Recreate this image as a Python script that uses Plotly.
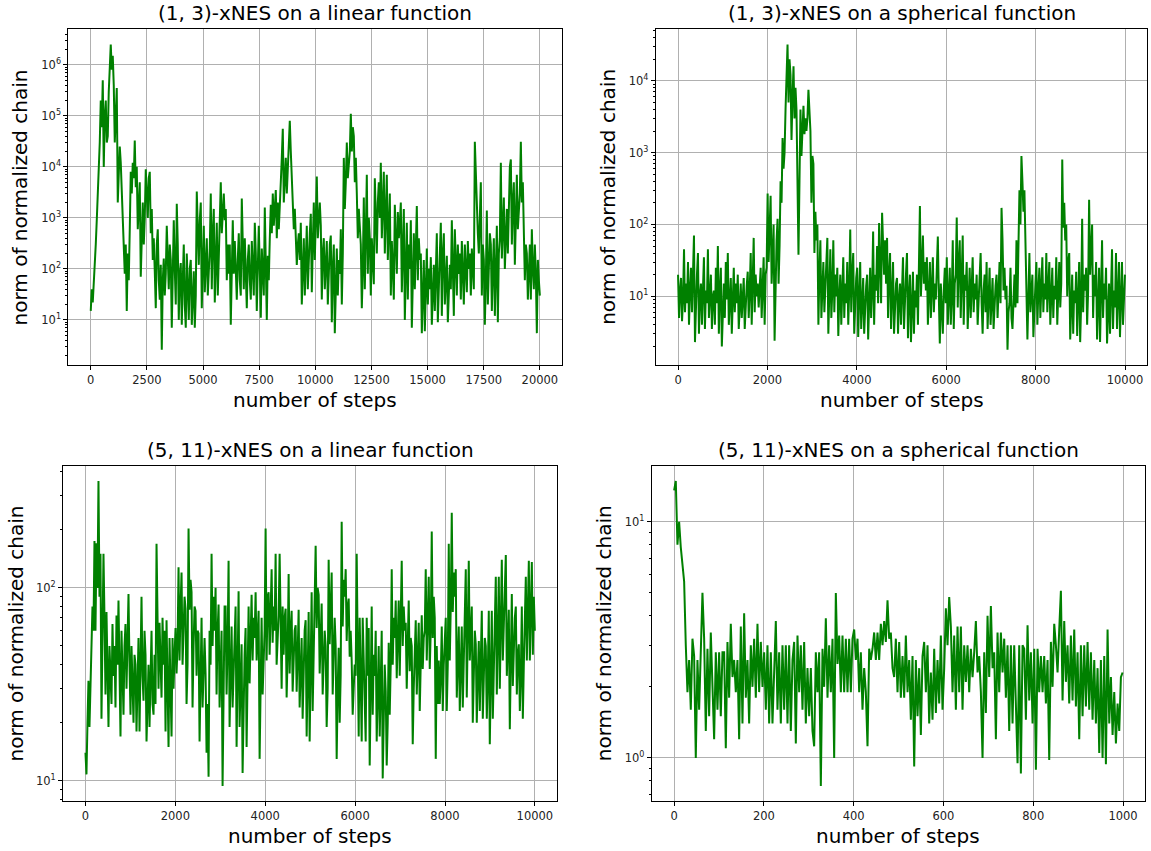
import numpy as np
import plotly.graph_objects as go

W, H = 1151, 851
FONT = "DejaVu Sans"

# ---- chain norms, sampled evenly over each run ----
steps_lin13 = 20000
norm_lin13 = [
    15, 40, 22, 70, 150, 300, 900, 2500, 6000, 3e4,
    2e5, 6e4, 5e5, 1e4, 1e5, 2e5, 3e4, 4e4, 3e5, 1.2e6,
    2.5e6, 8e5, 1.5e6, 4e5, 3e4, 1e5, 3.5e5, 2e3, 8e3, 2.5e4,
    1.2e4, 3e3, 1.5e3, 200, 80, 300, 15, 200, 60, 600,
    8e3, 3e3, 1.2e4, 6e3, 3.3e4, 4e3, 1e4, 600, 1.5e3, 5e3,
    70, 800, 2e3, 300, 1e3, 9e3, 2e3, 1e3, 6e3, 8e3,
    500, 1.5e3, 150, 400, 90, 17, 300, 600, 60, 25,
    120, 2.6, 60, 160, 30, 80, 700, 100, 40, 300,
    150, 7, 60, 900, 100, 20, 1.9e3, 300, 10, 80,
    130, 8, 60, 300, 20, 7, 200, 50, 10, 100,
    150, 8, 50, 90, 7, 30, 3.3e3, 600, 120, 900,
    2e3, 17, 300, 700, 35, 150, 400, 30, 100, 250,
    3e3, 40, 500, 1.5e3, 22, 200, 800, 30, 150, 400,
    5e3, 500, 2e3, 3e3, 900, 1.5e3, 60, 300, 80, 300,
    8, 200, 900, 80, 350, 100, 25, 150, 500, 60,
    30, 2.4e3, 300, 40, 400, 100, 17, 150, 300, 60,
    25, 350, 80, 30, 800, 200, 15, 300, 700, 100,
    11, 250, 60, 30, 1.6e3, 200, 10, 180, 60, 400,
    1.8e3, 500, 3e3, 700, 1.5e3, 3.5e3, 400, 2e3, 600, 3e3,
    5e3, 1.5e4, 5.6e4, 2e3, 8e3, 1.5e4, 3e3, 1e4, 2.5e4, 8e4,
    2e4, 5e3, 2.5e3, 600, 1.5e3, 400, 120, 300, 500, 150,
    800, 20, 200, 400, 30, 100, 700, 40, 200, 500,
    1.2e3, 35, 300, 2e3, 150, 800, 6.5e3, 400, 1e3, 2e3,
    700, 25, 200, 400, 40, 150, 350, 20, 100, 300,
    450, 9, 100, 300, 5.5, 60, 250, 30, 150, 80,
    600, 20, 200, 1.5e4, 1.5e3, 5e3, 3e4, 6e3, 1.5e4, 2e4,
    1.1e5, 2e4, 6e4, 4e4, 5e3, 1.5e4, 3e3, 400, 1.5e3, 600,
    300, 17, 100, 2.5e3, 40, 500, 7e3, 80, 1e3, 400,
    30, 400, 100, 50, 6e3, 500, 200, 2e3, 5e3, 1e3,
    1.2e4, 400, 3e3, 8e3, 200, 2e3, 7e3, 150, 1e3, 3e3,
    30, 350, 100, 25, 1.8e3, 300, 80, 1.3e3, 400, 800,
    2e3, 35, 500, 1.5e3, 10, 200, 800, 25, 300, 100,
    900, 7, 200, 500, 40, 300, 1.7e3, 60, 400, 150,
    200, 5.5, 60, 150, 6, 80, 250, 20, 100, 40,
    170, 8, 60, 120, 15, 80, 500, 9, 100, 200,
    800, 12, 200, 500, 20, 100, 180, 9, 60, 120,
    40, 900, 100, 12, 600, 150, 30, 300, 80, 200,
    25, 350, 60, 20, 300, 80, 35, 350, 100, 200,
    30, 250, 80, 40, 3.1e4, 5e3, 2e3, 500, 200, 1e3,
    5e3, 30, 300, 150, 8, 60, 1.4e3, 20, 200, 500,
    300, 15, 100, 400, 12, 150, 700, 9, 200, 400,
    1.2e4, 160, 1e3, 2.5e3, 100, 800, 1.5e3, 200, 1e3, 1e4,
    1.4e4, 300, 2e3, 5e3, 120, 1e3, 7e3, 600, 2e3, 3e3,
    3.1e4, 2e3, 5e3, 700, 60, 300, 200, 25, 100, 300,
    25, 600, 100, 40, 300, 80, 5.5, 150, 60, 30,
]

steps_sph13 = 10000
norm_sph13 = [
    20, 5, 12, 18, 4.5, 9, 45, 6, 15, 8,
    30, 4, 12, 25, 6, 15, 70, 2.3, 10, 20,
    40, 3, 10, 15, 4, 20, 35, 3.5, 12, 8,
    45, 5, 15, 20, 3.5, 10, 12, 4, 25, 8,
    50, 3, 12, 25, 2, 10, 15, 5, 30, 9,
    40, 4, 12, 18, 3, 10, 25, 6, 15, 8,
    20, 3.5, 10, 15, 5, 12, 18, 3.5, 9, 14,
    22, 5, 12, 40, 4, 15, 65, 6, 20, 10,
    15, 7, 12, 25, 5, 14, 35, 4, 20, 25,
    270, 30, 100, 250, 15, 60, 100, 2.4, 30, 60,
    120, 15, 50, 400, 200, 1.6e3, 600, 1e3, 4e3, 1.2e4,
    3.2e4, 5e3, 2e4, 1.2e4, 1.5e3, 6e3, 1.6e4, 3e3, 8e3, 4e3,
    600, 38, 400, 4e3, 900, 2e3, 4.5e3, 1.8e3, 3e3, 2e3,
    3e3, 7.5e3, 4e3, 2e3, 200, 900, 700, 40, 150, 60,
    100, 4, 20, 60, 5, 15, 30, 6, 12, 20,
    65, 3, 15, 45, 5, 12, 60, 6, 20, 10,
    25, 2.8, 10, 20, 4, 12, 35, 5, 15, 8,
    30, 4, 12, 85, 6, 20, 40, 3, 12, 18,
    25, 2.7, 10, 30, 3.5, 12, 18, 3, 8, 14,
    20, 2.5, 8, 25, 5, 12, 80, 4, 20, 12,
    50, 8, 105, 20, 8, 145, 30, 20, 60, 15,
    65, 5, 20, 40, 3.5, 12, 30, 3, 10, 15,
    18, 3, 9, 15, 4, 10, 35, 3.5, 12, 20,
    40, 2.6, 10, 20, 2.3, 8, 22, 3, 12, 7,
    20, 4, 30, 180, 10, 40, 70, 15, 30, 12,
    35, 4, 12, 30, 5, 14, 35, 6, 15, 9,
    25, 68, 10, 2.2, 15, 6, 3, 12, 25, 8,
    35, 4, 12, 25, 4, 10, 60, 3.5, 15, 20,
    125, 7, 30, 60, 5, 15, 70, 4, 20, 12,
    30, 3.5, 10, 25, 5, 12, 35, 6, 15, 9,
    20, 4, 10, 25, 40, 8, 3, 12, 20, 6,
    30, 3.5, 10, 25, 4, 12, 18, 3.5, 8, 14,
    20, 5, 12, 30, 8, 170, 60, 12, 25, 9,
    14, 1.8, 6, 8, 25, 5, 3.5, 12, 20, 7,
    60, 8, 30, 300, 100, 900, 400, 150, 300, 60,
    30, 2.5, 10, 40, 6, 15, 20, 2.7, 8, 14,
    30, 4, 12, 25, 5, 12, 35, 6, 15, 9,
    40, 6, 15, 30, 4, 12, 25, 5, 14, 9,
    35, 4, 12, 30, 7, 15, 800, 90, 200, 60,
    100, 10, 30, 40, 2.5, 10, 20, 3, 12, 8,
    22, 2.8, 10, 30, 2.3, 8, 120, 6, 20, 12,
    25, 4, 12, 220, 20, 50, 100, 5, 20, 10,
    30, 2.5, 10, 25, 2.3, 8, 60, 5, 15, 9,
    25, 2.2, 8, 15, 3, 10, 45, 3.5, 12, 7,
    40, 3.5, 12, 30, 2.7, 10, 30, 4, 12, 20,
]

steps_lin511 = 10000
norm_lin511 = [
    14, 10.8, 20, 33, 19, 30, 55, 80, 60, 175,
    60, 170, 100, 358, 90, 150, 21, 50, 150, 70,
    28, 75, 40, 19, 50, 30, 25, 65, 35, 50,
    24, 72, 40, 86, 30, 17, 60, 35, 22, 50,
    65, 30, 50, 93, 40, 22, 50, 30, 20, 45,
    40, 18, 30, 55, 18, 40, 90, 35, 26, 60,
    45, 16, 30, 40, 19, 35, 60, 25, 22, 45,
    25, 169, 60, 30, 66, 35, 27, 70, 40, 60,
    18, 68, 30, 15, 55, 25, 17, 55, 30, 45,
    62, 36, 50, 128, 42, 80, 120, 40, 60, 90,
    78, 25, 40, 203, 77, 110, 95, 24, 50, 80,
    76, 35, 60, 58, 16, 35, 70, 24, 40, 55,
    36, 14, 25, 10.5, 60, 40, 150, 50, 90, 60,
    100, 28, 60, 82, 24, 45, 60, 9.4, 30, 80,
    80, 28, 50, 138, 19, 40, 63, 24, 40, 55,
    80, 15, 35, 96, 19, 40, 51, 11, 25, 45,
    62, 15, 35, 80, 32, 60, 92, 42, 70, 55,
    95, 42, 65, 76, 13, 30, 70, 28, 45, 60,
    203, 42, 90, 95, 45, 70, 125, 52, 80, 60,
    150, 40, 60, 72, 150, 60, 30, 80, 45, 70,
    78, 27, 45, 118, 36, 60, 76, 29, 50, 60,
    64, 29, 45, 77, 24, 40, 55, 21, 35, 60,
    68, 17, 35, 75, 16, 40, 95, 23, 45, 70,
    165, 62, 100, 92, 36, 55, 83, 28, 45, 60,
    50, 19, 30, 140, 51, 80, 120, 28, 50, 70,
    50, 13, 30, 49, 20, 35, 220, 63, 110, 90,
    125, 53, 80, 88, 44, 60, 42, 22, 30, 40,
    35, 150, 50, 17, 70, 30, 16, 70, 40, 25,
    16, 70, 35, 62, 12, 30, 80, 22, 45, 35,
    60, 16, 35, 50, 17, 35, 60, 10.3, 25, 40,
    29, 12, 20, 52, 22, 40, 125, 40, 70, 55,
    86, 34, 55, 86, 35, 60, 138, 50, 80, 60,
    66, 30, 45, 86, 37, 55, 50, 15.5, 30, 50,
    68, 28, 45, 66, 23, 40, 72, 38, 55, 60,
    125, 42, 70, 114, 38, 60, 196, 55, 90, 70,
    13, 50, 25, 42, 25, 35, 63, 23, 40, 55,
    70, 23, 40, 169, 42, 80, 245, 75, 120, 90,
    125, 27, 50, 63, 23, 40, 63, 24, 40, 55,
    125, 27, 60, 138, 42, 70, 80, 20, 40, 60,
    51, 20, 35, 53, 23, 40, 76, 21, 40, 55,
    50, 21, 35, 76, 15.5, 35, 76, 21, 40, 60,
    114, 28, 55, 114, 30, 60, 140, 42, 70, 90,
    148, 35, 60, 77, 18.5, 40, 93, 31, 50, 70,
    80, 28, 45, 51, 23, 35, 80, 21, 40, 60,
    114, 42, 70, 138, 42, 80, 136, 45, 90, 60,
]

steps_sph511 = 1000
norm_sph511 = [
    13.6, 14.9, 8.0, 10.0, 7.8, 6.4,
    5.6, 3.0, 1.9, 2.6, 1.6, 3.2,
    2.7, 1.0, 2.6, 1.6, 3.3, 5.0,
    3.2, 1.3, 2.9, 1.5, 3.4, 2.2,
    1.2, 2.8, 1.6, 2.8, 1.5, 2.8,
    2.8, 1.1, 3.1, 1.8, 3.7, 2.2,
    2.6, 1.9, 2.6, 1.2, 3.6, 1.4,
    4.1, 1.8, 2.6, 1.4, 3.0, 2.0,
    3.2, 1.8, 3.7, 1.9, 3.1, 2.0,
    2.8, 1.6, 3.0, 1.4, 2.8, 1.4,
    2.2, 3.8, 1.6, 2.8, 1.4, 3.0,
    1.6, 3.0, 1.4, 3.0, 1.3, 2.6,
    3.1, 1.15, 3.3, 1.9, 3.0, 1.6,
    3.1, 1.4, 2.4, 1.5, 2.4, 1.3,
    1.12, 2.8, 1.9, 2.8, 0.76, 2.9,
    2.0, 3.9, 1.8, 3.0, 1.9, 3.2,
    1.0, 5.0, 2.5, 3.3, 1.9, 3.3,
    1.9, 3.2, 1.9, 3.2, 1.9, 3.2,
    3.5, 2.6, 3.2, 1.9, 2.8, 1.6,
    2.4, 1.9, 1.12, 2.9, 2.6, 2.9,
    3.4, 2.6, 3.4, 2.6, 3.7, 3.0,
    3.8, 3.1, 4.65, 3.2, 3.4, 2.4,
    2.2, 3.2, 1.9, 3.1, 1.8, 2.7,
    1.8, 3.3, 1.9, 2.6, 1.45, 2.7,
    0.92, 2.6, 1.5, 2.4, 1.25, 2.7,
    3.1, 1.9, 3.0, 1.4, 2.3, 1.45,
    2.9, 1.55, 2.6, 1.7, 3.3, 1.6,
    2.4, 4.3, 3.0, 4.8, 3.6, 1.9,
    3.3, 1.6, 3.6, 1.9, 3.6, 1.6,
    3.0, 2.1, 3.0, 1.9, 2.9, 2.2,
    2.8, 3.8, 2.3, 2.7, 1.9, 1.0,
    2.8, 1.55, 4.0, 2.2, 4.4, 2.4,
    2.8, 1.2, 3.4, 1.9, 3.4, 2.3,
    3.2, 1.8, 3.0, 1.3, 3.0, 1.4,
    3.0, 1.8, 0.95, 3.0, 0.86, 3.0,
    2.9, 1.45, 3.65, 1.75, 2.8, 1.4,
    2.9, 0.89, 2.9, 1.9, 2.7, 1.9,
    2.7, 1.7, 2.6, 0.98, 3.1, 2.0,
    3.7, 3.0, 2.3, 3.5, 5.1, 1.75,
    3.8, 2.1, 3.0, 1.7, 3.3, 1.75,
    3.5, 1.65, 2.8, 1.2, 3.0, 1.5,
    3.0, 1.65, 3.1, 1.6, 2.8, 1.45,
    2.6, 1.4, 2.4, 1.05, 2.6, 1.0,
    2.7, 0.94, 3.5, 1.4, 2.2, 1.25,
    1.9, 1.15, 1.7, 1.3, 2.2, 2.3,
]

titles = [
    "(1, 3)-xNES on a linear function",
    "(1, 3)-xNES on a spherical function",
    "(5, 11)-xNES on a linear function",
    "(5, 11)-xNES on a spherical function",
]
x_label = "number of steps"
y_label = "norm of normalized chain"

# plot frames in pixels: left, top, right, bottom
panels = [
    dict(title=titles[0], n=steps_lin13, v=norm_lin13, dtick=2500, box=(68.3, 29.3, 562.3, 365.0)),
    dict(title=titles[1], n=steps_sph13, v=norm_sph13, dtick=2000, box=(655.7, 29.3, 1147.3, 365.0)),
    dict(title=titles[2], n=steps_lin511, v=norm_lin511, dtick=2000, box=(63.0, 465.7, 557.3, 801.3)),
    dict(title=titles[3], n=steps_sph511, v=norm_sph511, dtick=200, box=(651.7, 465.7, 1145.0, 801.3)),
]

fig = go.Figure()
annotations = []
tick_font = dict(family=FONT, size=11.5, color="#222222")
label_font = dict(family=FONT, size=20, color="#000000")

for i, p in enumerate(panels, start=1):
    vals = np.asarray(p["v"], dtype=float)
    x = np.linspace(0, p["n"] - 1, len(vals))
    xa = "x" if i == 1 else f"x{i}"
    ya = "y" if i == 1 else f"y{i}"
    fig.add_trace(go.Scatter(
        x=x, y=vals, mode="lines",
        line=dict(color="#008000", width=2),
        xaxis=xa, yaxis=ya, showlegend=False, hoverinfo="skip",
    ))

    l, t, r, b = p["box"]
    xd = [l / W, r / W]
    yd = [(H - b) / H, (H - t) / H]

    span = x[-1] - x[0]
    xr = [x[0] - 0.05 * span, x[-1] + 0.05 * span]
    lv = np.log10(vals)
    ls = lv.max() - lv.min()
    yr = [lv.min() - 0.05 * ls, lv.max() + 0.05 * ls]

    # decade ticks labelled as powers of ten
    decades = list(range(int(np.ceil(yr[0])), int(np.floor(yr[1])) + 1))
    tvals = [10.0 ** d for d in decades]
    ttext = [f"10<sup>{d}</sup>" for d in decades]

    common = dict(
        ticks="outside", ticklen=4, tickwidth=1, tickcolor="black",
        showline=True, linecolor="black", linewidth=1, mirror=True,
        showgrid=True, gridcolor="#b0b0b0", gridwidth=1, zeroline=False,
        tickfont=tick_font,
    )
    fig.update_layout({
        ("xaxis" if i == 1 else f"xaxis{i}"): dict(
            domain=xd, range=xr, anchor=ya, tick0=0, dtick=p["dtick"],
            tickformat="d", **common),
        ("yaxis" if i == 1 else f"yaxis{i}"): dict(
            domain=yd, range=yr, anchor=xa, type="log",
            tickmode="array", tickvals=tvals, ticktext=ttext,
            minor=dict(ticks="outside", ticklen=2, tickcolor="black", showgrid=False,
                       dtick="D1"),
            **common),
    })

    cx = (xd[0] + xd[1]) / 2
    annotations.append(dict(text=p["title"], x=cx, y=yd[1], xref="paper", yref="paper",
                            xanchor="center", yanchor="bottom", yshift=2, showarrow=False,
                            font=label_font))
    annotations.append(dict(text=x_label, x=cx, y=yd[0], xref="paper", yref="paper",
                            xanchor="center", yanchor="middle", yshift=-35, showarrow=False,
                            font=label_font))
    annotations.append(dict(text=y_label, x=xd[0], y=(yd[0] + yd[1]) / 2, xref="paper",
                            yref="paper", xanchor="center", yanchor="middle", xshift=-48,
                            textangle=-90, showarrow=False, font=label_font))

fig.update_layout(
    width=W, height=H, autosize=False,
    margin=dict(l=0, r=0, t=0, b=0),
    paper_bgcolor="white", plot_bgcolor="white",
    annotations=annotations,
    font=dict(family=FONT),
)

fig.write_html("out.html")
